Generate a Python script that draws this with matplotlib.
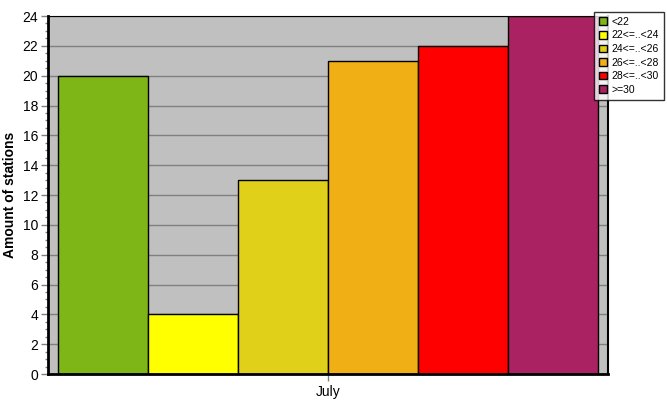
import numpy as np
import matplotlib
matplotlib.use("Agg")
import matplotlib.pyplot as plt
from matplotlib.ticker import MultipleLocator

# data
month = "July"
classes = ["<22", "22<=..<24", "24<=..<26", "26<=..<28", "28<=..<30", ">=30"]
counts = [20, 4, 13, 21, 22, 24]
colors = ["#7eb517", "#ffff00", "#e0d01a", "#f0b015", "#ff0000", "#aa2262"]

plt.rcParams["font.family"] = ["Liberation Sans", "DejaVu Sans"]

fig = plt.figure(figsize=(6.67, 4.15), dpi=100)
ax = fig.add_axes([48 / 667, 41 / 415, 560 / 667, 358 / 415])
ax.set_facecolor("#c0c0c0")

n = len(counts)
group = 540 / 560
w = group / n
xs = -group / 2 + w / 2 + w * np.arange(n)
bars = []
for x, v, c, lab in zip(xs, counts, colors, classes):
    b = ax.bar(x, v, width=w, color=c, edgecolor="black", linewidth=1,
               label=lab, zorder=3)
    bars.append(b)

ax.set_xlim(-0.5, 0.5)
ax.set_ylim(0, 24)
ax.set_xticks([0])
ax.set_xticklabels([month], fontsize=10)
ax.yaxis.set_major_locator(MultipleLocator(2))
ax.yaxis.set_minor_locator(MultipleLocator(0.5))
ax.tick_params(axis="y", which="major", labelsize=10, length=5,
               color="#808080", width=1, pad=2)
ax.tick_params(axis="y", which="minor", length=2, color="#808080", width=1)
ax.tick_params(axis="x", length=5, color="#808080", width=1, pad=3)
ax.grid(axis="y", color="#808080", linewidth=1, zorder=1)
ax.set_axisbelow(True)

ax.spines["left"].set_linewidth(2)
ax.spines["bottom"].set_linewidth(2)
ax.spines["top"].set_linewidth(0.8)
ax.spines["right"].set_linewidth(1.5)
for s in ax.spines.values():
    s.set_color("black")
    s.set_zorder(5)

ax.set_ylabel("Amount of stations", fontsize=10, fontweight="bold", labelpad=4)

leg = fig.legend(handles=[b[0] for b in bars], labels=classes,
                 loc="upper left", bbox_to_anchor=(594 / 667, 1 - 12 / 415),
                 fontsize=7.5, frameon=True, fancybox=False,
                 handlelength=0.75, handleheight=0.75, handletextpad=0.5,
                 labelspacing=0.35, borderpad=0.45, borderaxespad=0)
leg.get_frame().set_edgecolor("black")
leg.get_frame().set_linewidth(1)
leg.set_zorder(10)

fig.savefig("out.png", dpi=100)
